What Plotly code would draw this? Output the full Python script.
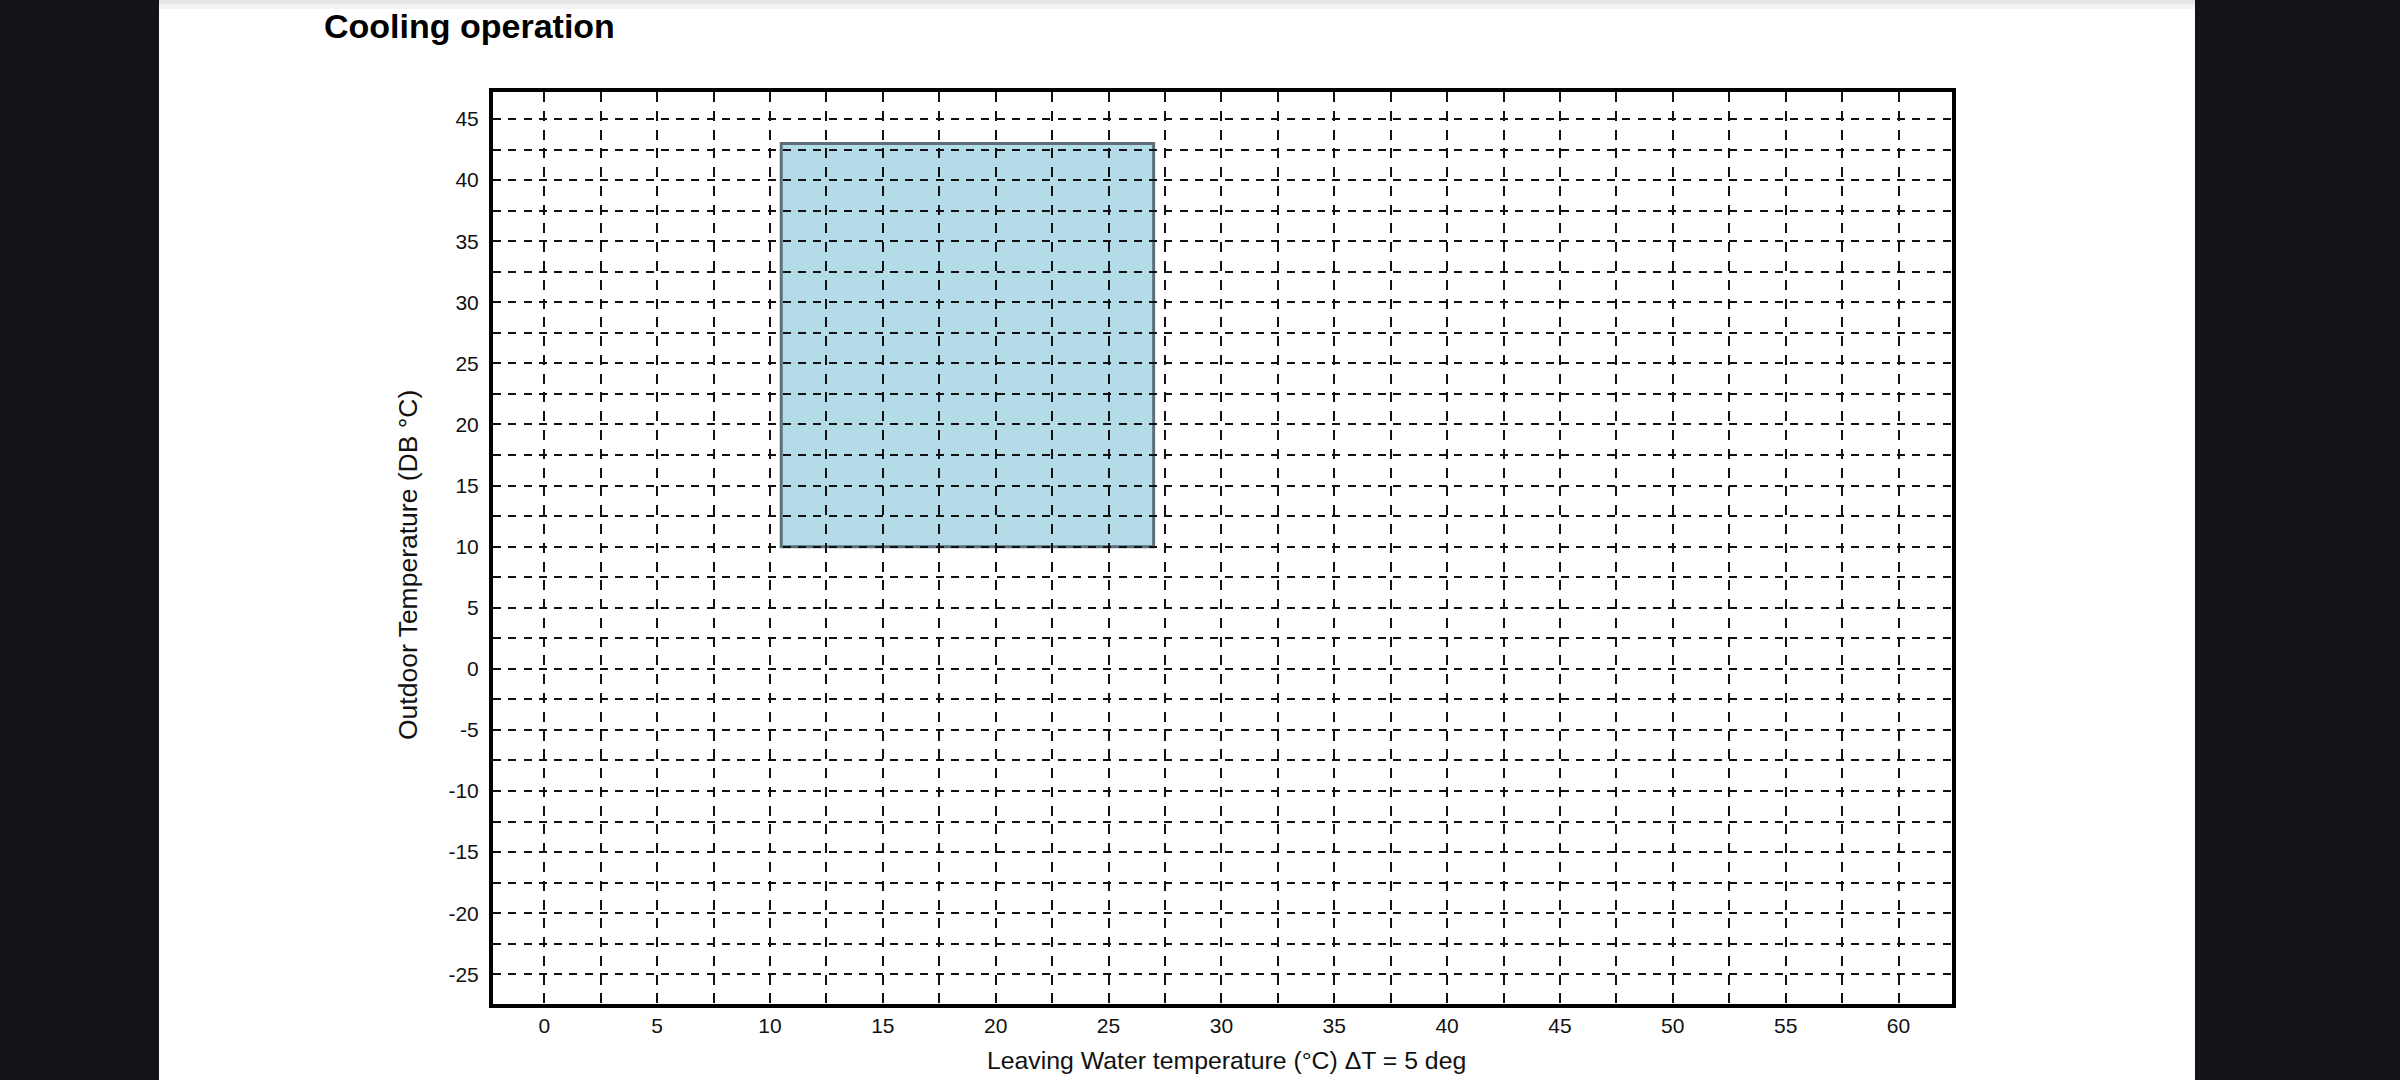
import plotly.graph_objects as go

# ---- data ----
title_text = "Cooling operation"
x_title = "Leaving Water temperature (°C) ΔT = 5 deg"
y_title = "Outdoor Temperature (DB °C)"

x_tick_vals = [0, 5, 10, 15, 20, 25, 30, 35, 40, 45, 50, 55, 60]
y_tick_vals = [45, 40, 35, 30, 25, 20, 15, 10, 5, 0, -5, -10, -15, -20, -25]
x_range = [-2.27, 62.37]
y_range = [-27.43, 47.21]

# operating range (cooling)
op_lwt = [10.5, 27.0]   # leaving water temperature min / max
op_oat = [10.0, 43.0]   # outdoor temperature min / max

# ---- styling ----
FONT = "Liberation Sans, Arial, sans-serif"
grid_color = "#111111"
W, H = 2400, 1080
L, R, T, B = 493, 448, 92, 76
PW, PH = W - L - R, H - T - B


def px_x(p):
    return (p - L) / PW


def px_y(p):
    return (H - B - p) / PH


fig = go.Figure()

# invisible trace to instantiate axes
fig.add_trace(go.Scatter(x=x_range, y=y_range, mode="markers",
                         marker=dict(opacity=0), hoverinfo="skip", showlegend=False))

shapes = [
    # white page on dark background
    dict(type="rect", xref="paper", yref="paper", layer="below",
         x0=px_x(159), x1=px_x(2195), y0=px_y(1080), y1=px_y(0),
         fillcolor="white", line=dict(width=0)),
    dict(type="rect", xref="paper", yref="paper", layer="below",
         x0=px_x(159), x1=px_x(2195), y0=px_y(4), y1=px_y(0),
         fillcolor="#e6e6e6", line=dict(width=0)),
    dict(type="rect", xref="paper", yref="paper", layer="below",
         x0=px_x(159), x1=px_x(2195), y0=px_y(9), y1=px_y(4),
         fillcolor="#f4f4f4", line=dict(width=0)),
    # operating range
    dict(type="rect", xref="x", yref="y", layer="below",
         x0=op_lwt[0], x1=op_lwt[1], y0=op_oat[0], y1=op_oat[1],
         fillcolor="#b3dce8", line=dict(color="#5b6f78", width=3)),
]

grid_common = dict(showgrid=True, gridcolor=grid_color, gridwidth=2)

fig.update_layout(
    width=W, height=H, autosize=False,
    margin=dict(l=L, r=R, t=T, b=B, pad=0),
    paper_bgcolor="#131418",
    plot_bgcolor="rgba(0,0,0,0)",
    showlegend=False,
    shapes=shapes,
    font=dict(family=FONT, color="#111111"),
    title=dict(text=title_text, x=324 / W, xanchor="left", xref="container",
               y=1 - 26 / H, yanchor="middle", yref="container",
               font=dict(family=FONT, size=34, weight="bold", color="#000000")),
    xaxis=dict(range=x_range, tickmode="array", tickvals=x_tick_vals,
               ticktext=[str(v) for v in x_tick_vals],
               showline=True, mirror=True, linecolor="#000000", linewidth=4,
               ticks="", ticklabelstandoff=0,
               tickfont=dict(family=FONT, size=21, color="#111111"),
               zeroline=False, griddash="10px,8.78px", **grid_common,
               minor=dict(tickmode="linear", tick0=0, dtick=2.5, showgrid=True,
                          gridcolor=grid_color, gridwidth=2, griddash="10px,8.78px")),
    yaxis=dict(range=y_range, tickmode="array", tickvals=y_tick_vals,
               ticktext=[str(v) for v in y_tick_vals],
               showline=True, mirror=True, linecolor="#000000", linewidth=4,
               ticks="", ticklabelstandoff=6,
               tickfont=dict(family=FONT, size=21, color="#111111"),
               zeroline=False, griddash="8px,7.26px", **grid_common,
               minor=dict(tickmode="linear", tick0=0, dtick=2.5, showgrid=True,
                          gridcolor=grid_color, gridwidth=2, griddash="8px,7.26px")),
    annotations=[
        dict(text=x_title, xref="paper", yref="paper", x=px_x(1226), y=px_y(1060),
             xanchor="center", yanchor="middle", showarrow=False,
             font=dict(family=FONT, size=24.8, color="#111111")),
        dict(text=y_title, xref="paper", yref="paper", x=px_x(408), y=px_y(565),
             xanchor="center", yanchor="middle", showarrow=False, textangle=-90,
             font=dict(family=FONT, size=26.5, color="#111111")),
    ],
)

fig.write_html("out.html",
               config={"displayModeBar": False},
               post_script="document.body.style.margin='0';document.body.style.overflow='hidden';")
